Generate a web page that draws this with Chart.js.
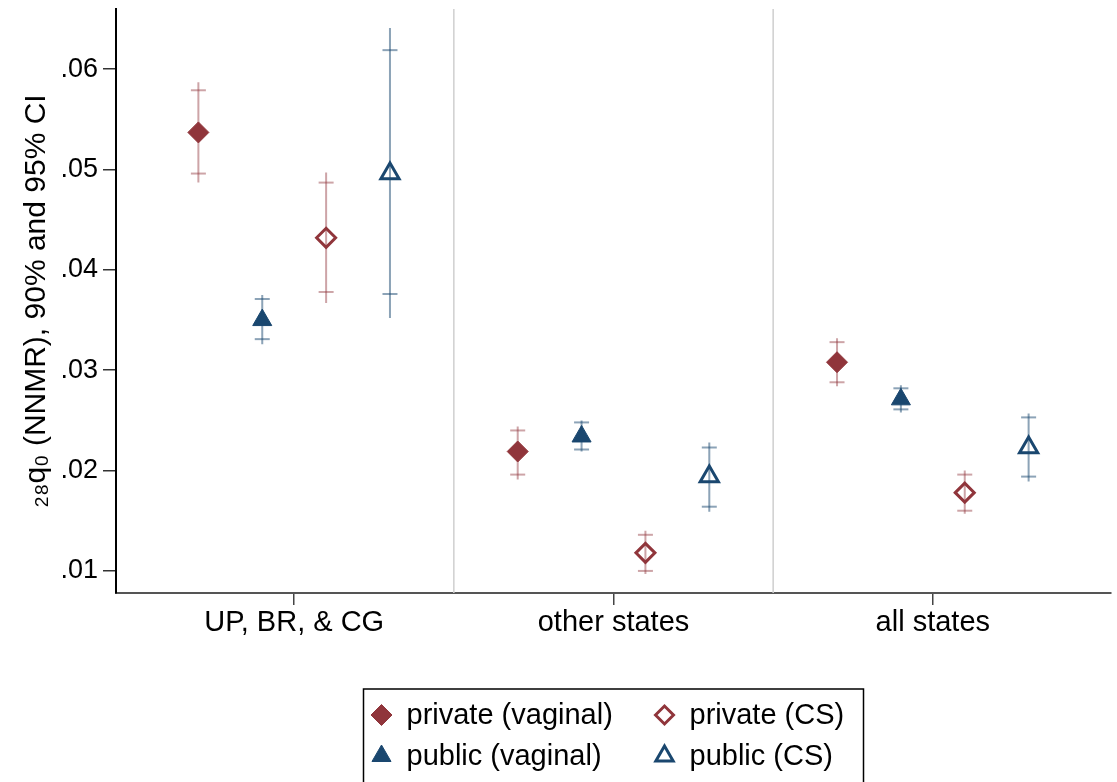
<!DOCTYPE html>
<html><head><meta charset="utf-8">
<script src="https://cdn.jsdelivr.net/npm/chart.js@4.4.1/dist/chart.umd.min.js"></script>
<style>html,body{margin:0;padding:0;background:#fff;} canvas{display:block;}</style>
</head><body>
<canvas id="c" width="1117" height="782"></canvas>
<script>
// ---- data ----
const categories = ["UP, BR, & CG", "other states", "all states"];
const seriesNames = ["private (vaginal)", "public (vaginal)", "private (CS)", "public (CS)"];
const yTickValues = [0.01, 0.02, 0.03, 0.04, 0.05, 0.06];
const yTickLabels = [".01", ".02", ".03", ".04", ".05", ".06"];

const privVagEst  = [0.0537, 0.0219, 0.0308];
const privVagLo90 = [0.0496, 0.0196, 0.0288];
const privVagHi90 = [0.0579, 0.0240, 0.0328];
const privVagLo95 = [0.0487, 0.0191, 0.0284];
const privVagHi95 = [0.0587, 0.0244, 0.0332];

const pubVagEst  = [0.0350, 0.0234, 0.0271];
const pubVagLo90 = [0.0331, 0.0221, 0.0261];
const pubVagHi90 = [0.0371, 0.0248, 0.0282];
const pubVagLo95 = [0.0326, 0.0219, 0.0258];
const pubVagHi95 = [0.0375, 0.0250, 0.0285];

const privCSEst  = [0.0432, 0.0118, 0.0178];
const privCSLo90 = [0.0378, 0.0100, 0.0160];
const privCSHi90 = [0.0487, 0.0136, 0.0196];
const privCSLo95 = [0.0367, 0.0097, 0.0157];
const privCSHi95 = [0.0497, 0.0140, 0.0200];

const pubCSEst  = [0.0496, 0.0194, 0.0223];
const pubCSLo90 = [0.0376, 0.0164, 0.0194];
const pubCSHi90 = [0.0619, 0.0223, 0.0253];
const pubCSLo95 = [0.0352, 0.0159, 0.0189];
const pubCSHi95 = [0.0641, 0.0228, 0.0257];

// ---- styling / layout ----
const FONT = '"Liberation Sans", Arial, Helvetica, sans-serif';
const seriesOffsets = [-0.3, -0.1, 0.1, 0.3];
const MAROON = 'rgb(144,53,59)';
const NAVY = 'rgb(26,71,111)';
const MAROON_CI = 'rgba(144,53,59,0.45)';
const NAVY_CI = 'rgba(26,71,111,0.5)';

const series = [
  {est: privVagEst, lo90: privVagLo90, hi90: privVagHi90, lo95: privVagLo95, hi95: privVagHi95,
   style: 'rectRot', radius: 10.5, fill: MAROON, border: MAROON, bw: 1, ci: MAROON_CI, legR: 10.5},
  {est: pubVagEst, lo90: pubVagLo90, hi90: pubVagHi90, lo95: pubVagLo95, hi95: pubVagHi95,
   style: 'triangle', radius: 11, fill: NAVY, border: NAVY, bw: 1, ci: NAVY_CI, legR: 11},
  {est: privCSEst, lo90: privCSLo90, hi90: privCSHi90, lo95: privCSLo95, hi95: privCSHi95,
   style: 'rectRot', radius: 9.5, fill: 'rgba(0,0,0,0)', border: MAROON, bw: 3, ci: MAROON_CI, legR: 9},
  {est: pubCSEst, lo90: pubCSLo90, hi90: pubCSHi90, lo95: pubCSLo95, hi95: pubCSHi95,
   style: 'triangle', radius: 10.5, fill: 'rgba(0,0,0,0)', border: NAVY, bw: 3, ci: NAVY_CI, legR: 10}
];

const markerSets = series.map((s, k) => ({
  type: 'scatter', label: seriesNames[k],
  data: s.est.map((v, i) => ({x: i + 1 + seriesOffsets[k], y: v})),
  pointStyle: s.style, pointRadius: s.radius, pointHoverRadius: s.radius,
  backgroundColor: s.fill, borderColor: s.border, pointBorderWidth: s.bw, borderWidth: s.bw,
  showLine: false, order: 0
}));

const whiskerSets = series.map((s, k) => {
  const d = [];
  s.est.forEach((v, i) => {
    const x = i + 1 + seriesOffsets[k];
    d.push({x: x, y: s.lo95[i]}, {x: x, y: s.hi95[i]}, {x: x, y: null});
  });
  return {type: 'scatter', label: 'ci95', data: d, showLine: true, spanGaps: false,
    borderColor: s.ci, borderWidth: 2, pointRadius: 0, pointHoverRadius: 0, order: 2};
});

const capSets = series.map((s, k) => {
  const d = [];
  s.est.forEach((v, i) => {
    const x = i + 1 + seriesOffsets[k];
    d.push({x: x, y: s.lo90[i]}, {x: x, y: s.hi90[i]});
  });
  return {type: 'scatter', label: 'ci90', data: d, showLine: false,
    pointStyle: 'line', pointRadius: 7.5, pointHoverRadius: 7.5,
    borderColor: s.ci, pointBorderWidth: 2, backgroundColor: 'rgba(0,0,0,0)', order: 1};
});

const separatorPlugin = {
  id: 'separators',
  beforeDatasetsDraw(chart) {
    const xs = chart.scales.x, ca = chart.chartArea, ctx = chart.ctx;
    ctx.save();
    ctx.strokeStyle = '#cfcfcf'; ctx.lineWidth = 1.5;
    for (let i = 1; i < categories.length; i++) {
      const px = xs.getPixelForValue(i + 0.5);
      ctx.beginPath(); ctx.moveTo(px, ca.top); ctx.lineTo(px, ca.bottom); ctx.stroke();
    }
    ctx.restore();
  }
};

function drawMarker(ctx, style, r, x, y) {
  if (Chart.helpers && Chart.helpers.drawPoint) {
    Chart.helpers.drawPoint(ctx, {pointStyle: style, radius: r, rotation: 0, borderWidth: ctx.lineWidth}, x, y);
    return;
  }
  ctx.beginPath();
  if (style === 'rectRot') {
    ctx.moveTo(x, y - r); ctx.lineTo(x + r, y); ctx.lineTo(x, y + r); ctx.lineTo(x - r, y);
  } else {
    ctx.moveTo(x, y - r); ctx.lineTo(x + r * 0.866, y + r / 2); ctx.lineTo(x - r * 0.866, y + r / 2);
  }
  ctx.closePath(); ctx.fill(); ctx.stroke();
}

const legendPlugin = {
  id: 'boxLegend',
  afterDraw(chart) {
    const ctx = chart.ctx, ca = chart.chartArea;
    const w = 500, cx = (ca.left + ca.right) / 2, left = cx - w / 2, top = 689;
    ctx.save();
    ctx.strokeStyle = '#000'; ctx.lineWidth = 1.5;
    ctx.strokeRect(left, top, w, 130);
    seriesNames.forEach((name, i) => {
      const col = Math.floor(i / 2), row = i % 2;
      const mx = left + 18 + col * 283, my = top + 26 + row * 41;
      const s = series[i];
      ctx.fillStyle = s.fill; ctx.strokeStyle = s.border; ctx.lineWidth = s.bw;
      drawMarker(ctx, s.style, s.legR, mx, my);
      ctx.fillStyle = '#000';
      ctx.font = '29px ' + FONT; ctx.textBaseline = 'middle'; ctx.textAlign = 'left';
      ctx.fillText(name, mx + 25, my + 1);
    });
    ctx.restore();
  }
};

new Chart(document.getElementById('c'), {
  type: 'scatter',
  data: {datasets: [...markerSets, ...capSets, ...whiskerSets]},
  options: {
    responsive: false, animation: false, events: [],
    layout: {autoPadding: false, padding: {top: 9, right: 6, left: 0, bottom: 0}},
    plugins: {legend: {display: false}, tooltip: {enabled: false}},
    scales: {
      x: {
        type: 'linear', min: 0.442, max: 3.558,
        afterBuildTicks: s => { s.ticks = categories.map((c, i) => ({value: i + 1})); },
        afterFit: s => { s.height = 189; s.paddingLeft = 0; s.paddingRight = 0; },
        ticks: {callback: (v, i) => categories[i], font: {family: FONT, size: 29}, color: '#000',
          padding: 1, maxRotation: 0, autoSkip: false},
        grid: {drawOnChartArea: false, drawTicks: true, tickLength: 12, color: '#444', lineWidth: 1.5},
        border: {display: true, color: '#555', width: 2}
      },
      y: {
        type: 'linear', min: 0.0078, max: 0.066,
        afterBuildTicks: s => { s.ticks = yTickValues.map(v => ({value: v})); },
        afterFit: s => { s.width = 116; s.paddingTop = 0; s.paddingBottom = 0; },
        ticks: {callback: (v, i) => yTickLabels[i], font: {family: FONT, size: 27}, color: '#000',
          padding: 5, autoSkip: false},
        grid: {drawOnChartArea: false, drawTicks: true, tickLength: 13, color: '#333', lineWidth: 1.5},
        border: {display: true, color: '#000', width: 2},
        title: {display: true, text: '\u2082\u2088q\u2080 (NNMR), 90% and 95% CI',
          font: {family: FONT, size: 30}, color: '#000', padding: {top: 19, bottom: 0}}
      }
    }
  },
  plugins: [separatorPlugin, legendPlugin]
});
</script>
</body></html>
